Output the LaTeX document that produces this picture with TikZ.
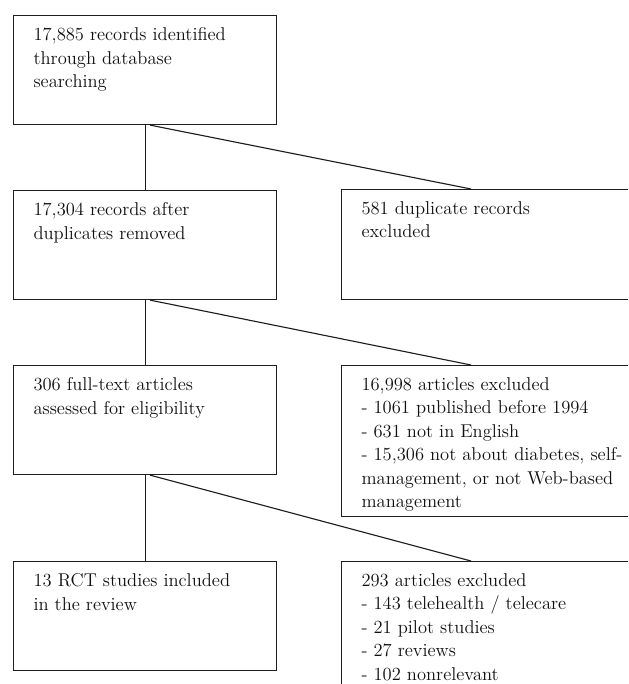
\documentclass[tikz,border=0pt]{standalone}
\usepackage{xcolor}
\usepackage{tikz}
\usetikzlibrary{calc}
\definecolor{flowline}{HTML}{1E1E1E}
\definecolor{flowtext}{HTML}{111111}
\newcommand{\flowfont}{\rmfamily\fontsize{13.9pt}{17.6pt}\selectfont}

\tikzset{
  flowbox/.style 2 args={draw=flowline, line width=0.85pt, fill=white, anchor=north west,
    inner xsep=15pt, inner ysep=9pt, text=flowtext, font=\flowfont,
    execute at begin node={\begin{minipage}[t][#2][t]{#1}\raggedright\flowfont},
    execute at end node={\end{minipage}}},
  flowlink/.style={draw=flowline, line width=0.85pt}
}

\begin{document}
\begin{tikzpicture}[x=0.75pt, y=-0.75pt]
  \useasboundingbox (0,0) rectangle (628,684);
  \clip (0,0) rectangle (628,684);
  % main column
  \node[flowbox={167.25pt}{63.75pt}] (ident) at (13,15) {17,885 records identified\\ through database\\ searching};
  \node[flowbox={167.25pt}{63.75pt}] (dedup) at (13,190) {17,304 records after\\ duplicates removed};
  \node[flowbox={167.25pt}{63.75pt}] (full) at (13,365) {306 full-text articles\\ assessed for eligibility};
  \node[flowbox={167.25pt}{63.75pt}] (incl) at (13,561) {13 RCT studies included\\ in the review};
  % exclusions, running off the right and bottom edge
  \node[flowbox={209pt}{64.5pt}] (dupex) at (341,189) {581 duplicate records\\ excluded};
  \node[flowbox={209pt}{95.25pt}] (artex) at (341,365) {16,998 articles excluded\\
    - 1061 published before 1994\\
    - 631 not in English\\
    - 15,306 not about diabetes, self-\\
    management, or not Web-based\\
    management};
  \node[flowbox={209pt}{94.5pt}] (fullex) at (341,561) {293 articles excluded\\
    - 143 telehealth / telecare\\
    - 21 pilot studies\\
    - 27 reviews\\
    - 102 nonrelevant};
  % connectors
  \draw[flowlink] (ident.south) -- (dedup.north);
  \draw[flowlink] (dedup.south) -- (full.north);
  \draw[flowlink] (full.south) -- (incl.north);
  \draw[flowlink] ($(ident.south)+(5,0)$) -- ($(dupex.north west)+(130,0)$);
  \draw[flowlink] ($(dedup.south)+(5,0)$) -- ($(artex.north west)+(130,0)$);
  \draw[flowlink] ($(full.south)+(5,0)$) -- ($(fullex.north west)+(130,0)$);
\end{tikzpicture}
\end{document}
